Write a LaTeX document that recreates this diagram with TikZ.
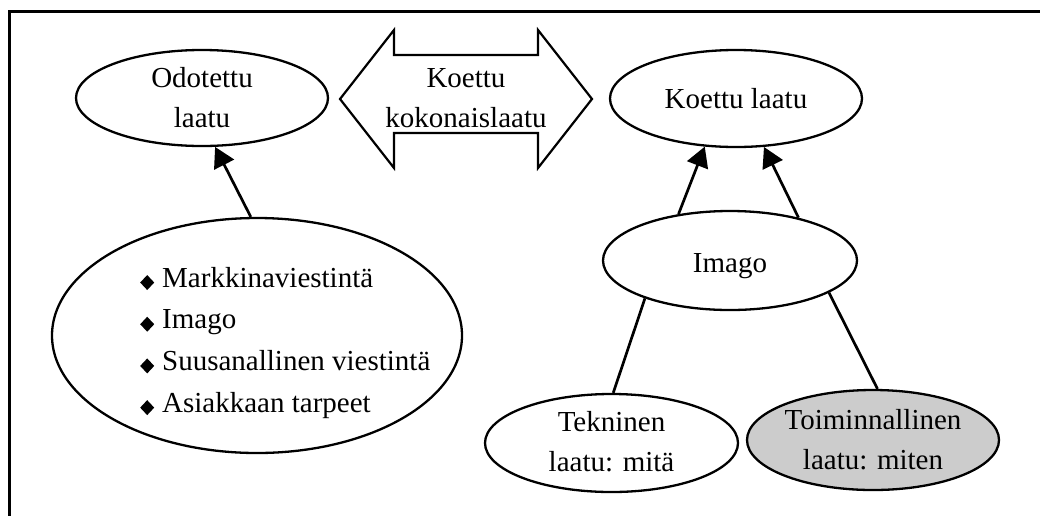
\documentclass[tikz,border=0pt]{standalone}
\usepackage{fontspec}
\setmainfont{Liberation Serif}
\usetikzlibrary{arrows.meta,shapes.geometric}
\newcommand{\dmd}{\raisebox{-3pt}{\tikz\fill[black] (0pt,7.5pt)--(7pt,0pt)--(14pt,7.5pt)--(7pt,15pt)--cycle;}\hspace{8pt}}
\tikzset{
  ell/.style={ellipse, draw=black, line width=2.3pt, inner sep=0pt},
  lbl/.style={inner sep=0pt, align=center, font=\fontsize{29}{40}\selectfont},
  conn/.style={line width=2.7pt},
  arr/.style={conn, -{Triangle[length=20pt,width=22pt]}},
  frameline/.style={line width=3pt},
  dblarrow/.style={line width=2.2pt, line join=miter}
}
\begin{document}
\begin{tikzpicture}[x=1pt,y=-1pt]
\useasboundingbox (0,0) rectangle (1040,515);
% frame (top and left edges visible)
\draw[frameline] (9,520) -- (9,11) -- (1045,11);

% ellipses
\node[ell, minimum width=252pt, minimum height=96pt] (odo) at (202,98) {};
\node[ell, minimum width=410pt, minimum height=235pt] (big) at (257,335.5) {};
\node[ell, minimum width=252pt, minimum height=97pt] (koe) at (736,98.5) {};
\node[ell, minimum width=254pt, minimum height=99pt] (ima) at (730,260.5) {};
\node[ell, minimum width=253pt, minimum height=98pt] (tek) at (611.5,443) {};
\node[ell, minimum width=252pt, minimum height=100pt, fill=black!20] (toi) at (873,440) {};

% double arrow
\draw[dblarrow] (340,99) -- (394,30) -- (394,55) -- (538,55) -- (538,30) -- (592,99)
  -- (538,168) -- (538,133) -- (394,133) -- (394,168) -- cycle;

% texts
\node[lbl] (odot) at (202,98) {Odotettu\\laatu};
\node[lbl] (kkt) at (466,98.4) {Koettu\\kokonaislaatu};
\node[lbl, anchor=base] (koet) at (736,108) {Koettu laatu};
\node[lbl, anchor=base] (imat) at (730,272) {Imago};
\node[lbl] (tekt) at (611.5,442) {Tekninen\\laatu: mitä};
\node[lbl] (toit) at (873,440) {Toiminnallinen\\laatu: miten};
\node[lbl, align=left, anchor=west, font=\fontsize{29}{41.7}\selectfont] (bigt) at (140,342.6)
  {\dmd Markkinaviestintä\\\dmd Imago\\\dmd Suusanallinen viestintä\\\dmd Asiakkaan tarpeet};

% connectors
\draw[arr] (big.93.4) -- (odo.285);
\draw[arr] (ima.138.8) -- (koe.237.4);
\draw[arr] (ima.32) -- (koe.300.4);
\draw[conn] (ima.204.6) -- (tek.88.2);
\draw[conn] (ima.342.8) -- (toi.85.2);
\end{tikzpicture}
\end{document}
